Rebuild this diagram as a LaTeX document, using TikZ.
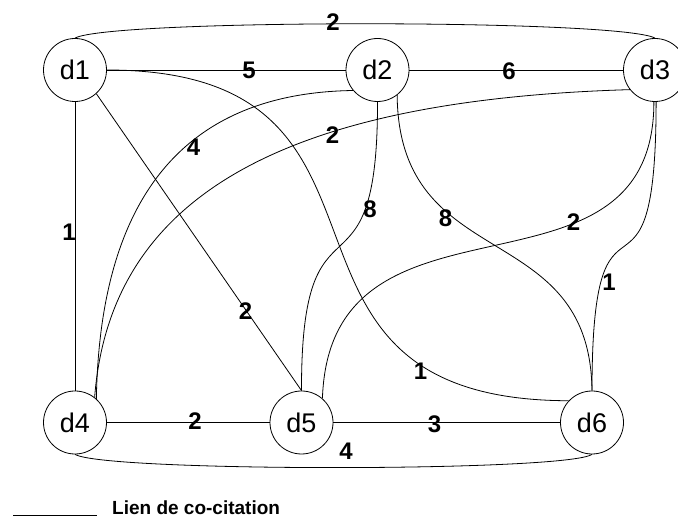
\documentclass[tikz,border=0pt]{standalone}
\usepackage{fontspec}
\setmainfont{Liberation Sans}
\begin{document}
\begin{tikzpicture}[x=1pt,y=-1pt,
  doc/.style={circle,draw,line width=0.8pt,minimum size=63pt,inner sep=0pt,font=\fontsize{27}{27}\selectfont},
  lnk/.style={line width=0.8pt},
  wt/.style={inner sep=0pt,font=\fontsize{24}{24}\selectfont\bfseries},
  legtxt/.style={inner sep=0pt,anchor=base west,font=\fontsize{19}{19}\selectfont\bfseries}]
\useasboundingbox (0,0) rectangle (678,518);
% documents
\node[doc] (d1) at (75,70) {d1};
\node[doc] (d2) at (377.5,70) {d2};
\node[doc] (d3) at (655,70) {d3};
\node[doc] (d4) at (75,422.5) {d4};
\node[doc] (d5) at (301.5,422.5) {d5};
\node[doc] (d6) at (592,422.5) {d6};
% straight links
\draw[lnk] (d1) -- (d2);
\draw[lnk] (d2) -- (d3);
\draw[lnk] (d1) -- (d4);
\draw[lnk] (d4) -- (d5);
\draw[lnk] (d5) -- (d6);
\draw[lnk] (d1.-48) -- (d5.north);
% curved links
\draw[lnk] (d1.north) .. controls (110,19) and (620,19) .. (d3.north);
\draw[lnk] (d4.south) .. controls (105,472) and (565,472) .. (d6.south);
\draw[lnk] (d1.east) .. controls (441,70) and (228,400) .. (d6.137);
\draw[lnk] (d2.220) .. controls (182,93) and (100,200) .. (d4.48);
\draw[lnk] (d3.218) .. controls (280,100) and (110,198) .. (d4.52);
\draw[lnk] (d2.south) .. controls (378,318) and (301,175) .. (d5.north);
\draw[lnk] (d2.-52) .. controls (399,276) and (590,216) .. (d6.north);
\draw[lnk] (d3.268) .. controls (654,320) and (330,170) .. (d5.49);
\draw[lnk] (d3.272) .. controls (656,343) and (592,150) .. (d6.north);
% weights
\node[wt] (w13) at (333,22) {2};
\node[wt] (w12) at (249,70) {5};
\node[wt] (w23) at (509,71.5) {6};
\node[wt] (w14) at (69,232) {1};
\node[wt] (w24) at (193.5,147.5) {4};
\node[wt] (w34) at (332.5,135) {2};
\node[wt] (w25) at (370,209.5) {8};
\node[wt] (w26) at (445.5,218.5) {8};
\node[wt] (w35) at (573.5,222.5) {2};
\node[wt] (w36) at (609,282) {1};
\node[wt] (w15) at (245.5,311.5) {2};
\node[wt] (w16) at (420.5,371.5) {1};
\node[wt] (w45) at (195,421) {2};
\node[wt] (w56) at (434.5,424) {3};
\node[wt] (w46) at (346,451) {4};
% legend
\coordinate (l1) at (13,515.5);
\coordinate (l2) at (97,515.5);
\draw[lnk] (l1) -- (l2);
\node[legtxt] (leg) at (112,515) {Lien de co-citation};
\end{tikzpicture}
\end{document}
